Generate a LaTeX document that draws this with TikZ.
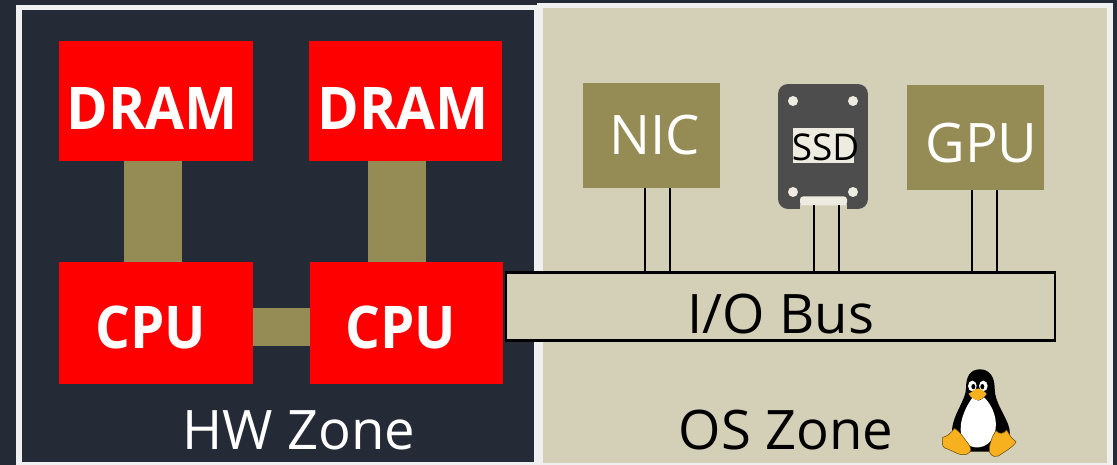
\documentclass[tikz,border=0pt]{standalone}
\usepackage{fontspec}
\setmainfont{Open Sans}
\usepackage{tikz}
\usetikzlibrary{positioning, calc}

\definecolor{zonedark}{HTML}{252A37}
\definecolor{zonetan}{HTML}{D4CFB7}
\definecolor{olivebox}{HTML}{958C55}
\definecolor{ssdgrey}{HTML}{4D4D4D}
\definecolor{ssdlight}{HTML}{EEECE0}
\definecolor{tuxyellow}{HTML}{F7B01E}

\newcommand{\pxfont}[1]{\fontsize{#1}{#1}\selectfont}

\begin{document}
\begin{tikzpicture}[
  x=0.02cm, y=-0.02cm,
  every node/.style={outer sep=0pt, inner sep=0pt},
  page/.style={fill=zonedark, minimum width=22.34cm, minimum height=9.3cm},
  zone/.style={draw=white!94!black, line width=0.11cm},
  chip/.style={fill=red, minimum width=3.87cm, minimum height=2.43cm},
  chiptxt/.style={anchor=base, text=white, xscale=0.93, font=\pxfont{33.5}\bfseries},
  zonetxt/.style={anchor=base, font=\pxfont{31}},
  devbox/.style={fill=olivebox, minimum width=2.74cm, minimum height=2.1cm},
  devtxt/.style={anchor=base, text=white, font=\pxfont{31}},
  link/.style={olivebox, line width=1.16cm},
  wire/.style={black, line width=0.035cm},
  ssdhole/.style={circle, fill=ssdlight, minimum size=0.2cm},
  tuxfoot/.style={fill=tuxyellow, draw=black!60!tuxyellow, line width=0.01cm},
]

\node[page] (bg) at (558.5,232.5) {};
\useasboundingbox (0,0) rectangle (1117,465);

%% ---- Zones ----
\node[zone, fill=zonedark, minimum width=10.36cm, minimum height=9.14cm] (hw) at (278,236) {};
\node[zone, fill=zonetan, minimum width=11.4cm, minimum height=9.2cm] (os) at (825,235.5) {};
\node[zonetxt, text=white] (hwtxt) at (299,450) {HW Zone};
\node[zonetxt, text=black] (ostxt) at (786,450) {OS Zone};

%% ---- DRAM / CPU ----
\node[chip, minimum height=2.4cm] (dram1) at (156,101) {};
\node[chip, minimum height=2.4cm] (dram2) at (405.5,101) {};
\node[chip] (cpu1) at (156,323) {};
\node[chip] (cpu2) at (406.5,323) {};
\node[chiptxt, xscale=1.03] (dram1txt) at (152,130) {DRAM};
\node[chiptxt, xscale=1.03] (dram2txt) at (403,130) {DRAM};
\node[chiptxt] (cpu1txt) at (150.5,349) {CPU};
\node[chiptxt] (cpu2txt) at (400.5,349) {CPU};

\draw[link] (153,0 |- dram1.south) -- (153,0 |- cpu1.north);
\draw[link] (397,0 |- dram2.south) -- (397,0 |- cpu2.north);
\draw[link, line width=0.76cm] (cpu1.east |- 0,327) -- (cpu2.west |- 0,327);

%% ---- I/O devices ----
\node[devbox] (nic) at (651.5,135.5) {};
\node[devbox] (gpu) at (975.5,137.5) {};
\node[devtxt] (nictxt) at (654.5,155) {NIC};
\node[devtxt] (gputxt) at (981.5,163) {GPU};

\node[fill=ssdgrey, rounded corners=0.2cm, minimum width=1.8cm, minimum height=2.5cm] (ssd) at (823,146.5) {};
\node[fill=zonetan, minimum width=0.94cm, minimum height=0.12cm] (ssdgap) at (823.5,207.5) {};
\node[fill=ssdlight, minimum width=0.94cm, minimum height=0.18cm,
  rounded corners=0.06cm] (ssdnotch) at (823.5,201) {};
\node[fill=ssdlight, minimum width=1.22cm, minimum height=0.7cm] (ssdlabel) at (823.5,145.5) {};
\node[anchor=base, font=\pxfont{21}] (ssdtxt) at (825.5,161) {SSD};
\foreach \name/\hx/\hy in {a/793/101, b/853/101, c/793/192, d/853/192}
  \node[ssdhole] (hole\name) at (\hx,\hy) {};

%% ---- Bus ----
\node[draw=black, line width=0.05cm, fill=zonetan, minimum width=10.98cm, minimum height=1.36cm] (bus) at (780.5,306.5) {};
\node[anchor=base, font=\pxfont{31}] (bustxt) at (781,334) {I/O Bus};

\foreach \wx in {645,670} \draw[wire] (\wx,0 |- nic.south) -- (\wx,0 |- bus.north);
\foreach \wx in {814,839} \draw[wire] (\wx,0 |- ssdnotch.south) -- (\wx,0 |- bus.north);
\foreach \wx in {972,997} \draw[wire] (\wx,0 |- gpu.south) -- (\wx,0 |- bus.north);

%% ---- Tux ----
\begin{scope}[shift={(920,360)}, x=0.00667cm, y=-0.00667cm]
  \fill[black] (180,28) .. controls (150,28) and (138,50) .. (138,85)
    .. controls (138,120) and (100,160) .. (96,210)
    .. controls (94,240) and (120,272) .. (150,275)
    -- (215,275) .. controls (250,268) and (276,240) .. (268,205)
    .. controls (258,165) and (224,130) .. (224,85)
    .. controls (224,50) and (208,28) .. (180,28) -- cycle;
  \fill[white] (158,112) .. controls (130,150) and (110,205) .. (130,240)
    .. controls (148,272) and (205,272) .. (222,225)
    .. controls (238,185) and (218,135) .. (192,112)
    .. controls (180,125) and (170,125) .. (158,112) -- cycle;
  \fill[white] (157,78) ellipse (13 and 16);
  \fill[white] (190,78) ellipse (13 and 16);
  \fill[black] (160,80) ellipse (6 and 8);
  \fill[black] (187,80) ellipse (6 and 8);
  \fill[tuxyellow] (146,101) .. controls (160,95) and (165,84) .. (175,86)
    .. controls (185,88) and (195,95) .. (200,102)
    .. controls (190,115) and (180,122) .. (170,120)
    .. controls (160,118) and (150,110) .. (146,101) -- cycle;
  \filldraw[tuxfoot] (103,205) .. controls (118,212) and (130,232) .. (140,245)
    .. controls (155,262) and (158,275) .. (140,283)
    .. controls (120,290) and (100,272) .. (74,264)
    .. controls (64,258) and (68,245) .. (68,232)
    .. controls (82,230) and (94,218) .. (103,205) -- cycle;
  \filldraw[tuxfoot] (228,212) .. controls (238,224) and (250,222) .. (260,210)
    .. controls (268,222) and (272,235) .. (288,245)
    .. controls (282,260) and (252,276) .. (235,288)
    .. controls (218,294) and (204,282) .. (208,262)
    .. controls (212,245) and (216,228) .. (228,212) -- cycle;
\end{scope}

\end{tikzpicture}
\end{document}
